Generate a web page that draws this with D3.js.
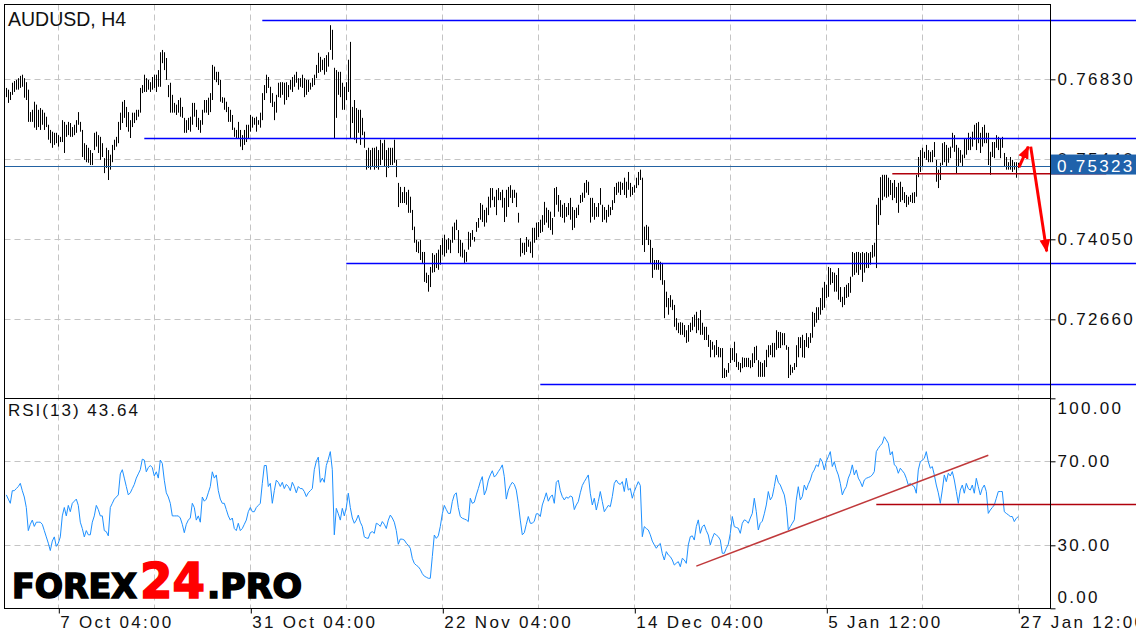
<!DOCTYPE html>
<html>
<head>
<meta charset="utf-8">
<script src="https://cdn.jsdelivr.net/npm/d3@7"></script>
<style>
body{margin:0;background:#fff;}
svg{display:block;font-family:"Liberation Sans",Arial,sans-serif;}
</style>
</head>
<body>
<div class="canvas"></div>
<script>
// H4 bars, oldest first
const high=[
.7668,.7665,.7661,.7677,.7680,.7682,.7685,.7689,.7691,.7685,
.7678,.7665,.7626,.7630,.7644,.7639,.7630,.7633,.7630,.7625,
.7618,.7604,.7595,.7592,.7590,.7590,.7586,.7583,.7612,.7609,
.7604,.7609,.7607,.7600,.7604,.7612,.7626,.7609,.7595,.7572,
.7569,.7564,.7560,.7555,.7590,.7592,.7586,.7583,.7572,.7546,
.7564,.7560,.7552,.7569,.7578,.7583,.7609,.7625,.7644,.7647,
.7635,.7626,.7612,.7625,.7625,.7630,.7630,.7668,.7673,.7691,
.7685,.7682,.7678,.7687,.7691,.7691,.7699,.7730,.7734,.7730,
.7720,.7673,.7677,.7656,.7642,.7639,.7647,.7651,.7635,.7616,
.7612,.7616,.7618,.7642,.7642,.7630,.7616,.7612,.7630,.7647,
.7647,.7651,.7659,.7708,.7705,.7696,.7696,.7682,.7652,.7651,
.7644,.7635,.7630,.7621,.7599,.7595,.7609,.7595,.7586,.7595,
.7604,.7604,.7621,.7618,.7616,.7618,.7612,.7625,.7659,.7673,
.7691,.7687,.7670,.7659,.7644,.7656,.7677,.7678,.7678,.7677,
.7678,.7673,.7682,.7687,.7691,.7696,.7685,.7685,.7691,.7685,
.7682,.7682,.7677,.7685,.7691,.7708,.7729,.7722,.7717,.7720,
.7725,.7730,.7777,.7769,.7703,.7699,.7696,.7696,.7677,.7670,
.7678,.7717,.7748,.7635,.7647,.7633,.7630,.7630,.7616,.7592,
.7560,.7564,.7560,.7564,.7564,.7566,.7560,.7578,.7572,.7578,
.7560,.7564,.7564,.7564,.7578,.7543,.7503,.7496,.7487,.7496,
.7487,.7491,.7479,.7456,.7427,.7404,.7401,.7404,.7383,.7383,
.7347,.7343,.7357,.7381,.7378,.7381,.7387,.7395,.7407,.7413,
.7404,.7407,.7404,.7427,.7434,.7439,.7421,.7404,.7399,.7387,
.7383,.7418,.7416,.7421,.7409,.7435,.7442,.7468,.7465,.7456,
.7460,.7479,.7494,.7494,.7479,.7491,.7494,.7487,.7491,.7477,
.7491,.7496,.7499,.7491,.7491,.7486,.7451,.7407,.7399,.7399,
.7409,.7404,.7401,.7425,.7425,.7434,.7435,.7439,.7447,.7470,
.7460,.7456,.7453,.7442,.7494,.7496,.7482,.7473,.7465,.7468,
.7461,.7468,.7477,.7461,.7456,.7460,.7465,.7482,.7486,.7503,
.7508,.7505,.7477,.7477,.7468,.7461,.7468,.7494,.7465,.7461,
.7456,.7465,.7461,.7473,.7496,.7503,.7505,.7505,.7503,.7512,
.7505,.7522,.7503,.7496,.7499,.7512,.7522,.7526,.7512,.7427,
.7430,.7427,.7404,.7390,.7369,.7369,.7369,.7366,.7364,.7334,
.7314,.7303,.7308,.7300,.7291,.7268,.7260,.7261,.7260,.7256,
.7247,.7256,.7260,.7270,.7274,.7279,.7268,.7282,.7260,.7253,
.7253,.7239,.7230,.7227,.7221,.7230,.7218,.7216,.7216,.7181,
.7178,.7190,.7216,.7216,.7227,.7207,.7192,.7190,.7200,.7199,
.7199,.7199,.7195,.7207,.7218,.7220,.7195,.7192,.7190,.7195,
.7213,.7221,.7221,.7225,.7225,.7247,.7244,.7244,.7242,.7242,
.7221,.7218,.7187,.7183,.7190,.7221,.7235,.7235,.7239,.7230,
.7242,.7235,.7242,.7279,.7277,.7287,.7287,.7303,.7321,.7331,
.7326,.7357,.7355,.7348,.7347,.7343,.7355,.7322,.7305,.7322,
.7326,.7329,.7340,.7383,.7381,.7383,.7383,.7381,.7383,.7381,
.7383,.7381,.7383,.7395,.7399,.7465,.7477,.7513,.7517,.7517,
.7517,.7512,.7508,.7503,.7508,.7496,.7503,.7505,.7496,.7487,
.7482,.7479,.7482,.7486,.7487,.7517,.7548,.7560,.7564,.7557,
.7569,.7560,.7557,.7560,.7574,.7543,.7526,.7538,.7572,.7574,
.7569,.7564,.7566,.7590,.7586,.7569,.7564,.7560,.7552,.7581,
.7581,.7590,.7583,.7592,.7604,.7607,.7609,.7590,.7600,.7604,
.7590,.7590,.7557,.7574,.7574,.7586,.7583,.7581,.7583,.7555,
.7548,.7539,.7548,.7543,.7539,.7539,.7538];
const low=[
.7652,.7642,.7647,.7656,.7661,.7665,.7665,.7668,.7670,.7651,
.7647,.7609,.7609,.7609,.7599,.7595,.7600,.7595,.7604,.7595,
.7600,.7578,.7572,.7564,.7569,.7572,.7566,.7574,.7574,.7555,
.7583,.7586,.7583,.7583,.7586,.7590,.7604,.7592,.7548,.7543,
.7539,.7538,.7534,.7534,.7560,.7566,.7555,.7543,.7548,.7520,
.7529,.7508,.7526,.7539,.7560,.7566,.7572,.7595,.7607,.7616,
.7600,.7592,.7581,.7600,.7607,.7612,.7618,.7625,.7659,.7661,
.7661,.7665,.7661,.7665,.7668,.7661,.7670,.7670,.7711,.7699,
.7682,.7652,.7625,.7625,.7625,.7621,.7625,.7618,.7616,.7590,
.7590,.7595,.7592,.7604,.7618,.7600,.7595,.7590,.7604,.7625,
.7625,.7621,.7626,.7647,.7682,.7678,.7673,.7644,.7642,.7630,
.7626,.7609,.7609,.7595,.7583,.7581,.7581,.7566,.7560,.7569,
.7574,.7581,.7592,.7599,.7604,.7592,.7604,.7599,.7612,.7647,
.7659,.7668,.7642,.7635,.7612,.7625,.7652,.7651,.7656,.7639,
.7647,.7652,.7665,.7661,.7670,.7677,.7665,.7670,.7668,.7652,
.7656,.7661,.7665,.7670,.7673,.7685,.7694,.7696,.7699,.7691,
.7696,.7705,.7734,.7717,.7581,.7616,.7656,.7652,.7630,.7630,
.7647,.7661,.7581,.7607,.7578,.7572,.7590,.7569,.7586,.7564,
.7526,.7529,.7526,.7531,.7526,.7529,.7526,.7534,.7543,.7531,
.7513,.7529,.7534,.7534,.7538,.7513,.7461,.7468,.7468,.7468,
.7465,.7451,.7451,.7421,.7399,.7383,.7381,.7369,.7364,.7331,
.7329,.7314,.7322,.7347,.7348,.7355,.7352,.7361,.7378,.7375,
.7381,.7387,.7381,.7399,.7404,.7421,.7381,.7375,.7373,.7364,
.7366,.7387,.7392,.7404,.7401,.7418,.7425,.7439,.7435,.7427,
.7434,.7447,.7460,.7473,.7461,.7447,.7473,.7473,.7460,.7435,
.7444,.7461,.7477,.7468,.7477,.7461,.7434,.7375,.7381,.7378,
.7383,.7392,.7381,.7373,.7399,.7404,.7409,.7416,.7418,.7430,
.7434,.7425,.7421,.7413,.7444,.7465,.7453,.7444,.7442,.7434,
.7444,.7447,.7439,.7421,.7425,.7442,.7447,.7468,.7470,.7477,
.7486,.7482,.7434,.7444,.7439,.7444,.7444,.7465,.7435,.7439,
.7434,.7444,.7447,.7456,.7468,.7482,.7486,.7482,.7491,.7482,
.7477,.7491,.7479,.7482,.7486,.7494,.7499,.7508,.7395,.7383,
.7404,.7395,.7364,.7338,.7352,.7352,.7352,.7334,.7326,.7268,
.7287,.7274,.7287,.7282,.7253,.7247,.7242,.7239,.7239,.7235,
.7225,.7227,.7244,.7247,.7253,.7242,.7247,.7239,.7239,.7230,
.7230,.7218,.7200,.7213,.7200,.7204,.7200,.7200,.7164,.7164,
.7166,.7173,.7190,.7195,.7192,.7183,.7178,.7174,.7181,.7183,
.7183,.7183,.7181,.7183,.7190,.7195,.7166,.7166,.7166,.7166,
.7183,.7200,.7204,.7200,.7200,.7213,.7216,.7216,.7221,.7221,
.7213,.7164,.7169,.7173,.7178,.7183,.7200,.7216,.7200,.7199,
.7218,.7216,.7225,.7234,.7253,.7260,.7265,.7274,.7282,.7286,
.7303,.7305,.7326,.7329,.7314,.7314,.7300,.7296,.7287,.7291,
.7303,.7305,.7312,.7340,.7343,.7347,.7343,.7352,.7331,.7347,
.7355,.7355,.7361,.7373,.7375,.7355,.7430,.7447,.7473,.7479,
.7477,.7479,.7482,.7473,.7477,.7468,.7451,.7470,.7473,.7468,
.7461,.7465,.7470,.7468,.7468,.7479,.7513,.7522,.7531,.7546,
.7543,.7539,.7539,.7539,.7548,.7505,.7494,.7508,.7534,.7539,
.7531,.7538,.7546,.7564,.7557,.7520,.7531,.7538,.7531,.7546,
.7552,.7560,.7560,.7566,.7578,.7560,.7572,.7555,.7566,.7572,
.7572,.7534,.7517,.7548,.7546,.7564,.7560,.7546,.7564,.7531,
.7526,.7526,.7526,.7522,.7526,.7512,.7529];
const rsi=[
54,52,50,56,56,57,58,59.5,56,53,
48,37,40,42,39,41,41,41,40,37,
34,31,27.5,32,34,29.5,31,34,44,48,
44,49,46,50,51,52,49,41,38,34,
37,35,35,41,44,49,47,44,44,37,
36.5,34.5,48,50,52,53,54,64,66,62,
58,54,55,57,59,62,64,66,71,70.6,
65,67,68,67,63,65,62,70.6,69,61,
55,53,50,44,44,44,44,43,40,36,
40,42,43,50,48,42,44,41,53,51,
52,55,58,65,62,63.5,56,52,50,50,
47,44,42,43,38,37,40.5,37,38,40,
42,46,48,46,46,48,49,50,59.5,68,
68,58,59.5,50,56,61,60,58,60,57,
59,58,56,60,58,55,58,57,57,55.6,
53.2,55,56,57,66,70,72,60,62,60,
68,71,74.6,66,35,47.6,45,42,47.6,44,
48,54.8,48,43,40.5,42,44.4,41,39,34,
33.5,33.3,36,36.5,35.7,40.5,40,39,41.3,40,
38,42,44.4,43,41,37,30.5,33,32.9,32.5,
31,30,28.6,23.8,21.4,20.5,19.8,18.5,16.5,15.3,
14.8,14.3,14.3,24.6,34.9,33.3,34.5,39,45,49,
47,45.2,45.2,50.8,54,55,48,43.7,42.9,42.5,
42.1,41.3,52.4,50,50.5,54,57,60.3,62.7,54,
56.3,61.1,63.5,65.5,62.5,63.5,65.1,66.5,68.3,62.7,
52,56.3,58.5,60,59,56.3,50,42,35,36,
40,43.7,40.5,40.5,41.5,45,45,43.7,49.2,52,
55,51,53,54,50,60,61,56,53.2,51.6,
53,52.4,53.5,53,47,49.2,50.8,55,58.5,60.3,
61.9,63.5,54.8,49.2,52.4,46.8,50.8,55.6,50.8,46,
47.5,49,48.4,53.2,59.5,61.1,59.5,59,60.3,55.6,
61.9,56.3,57.1,52.4,55.6,58,60.3,58.5,34.1,38.9,
38,37.3,35,32,30.2,28.6,30,30.9,26,23,
27,25.4,24.6,23,20.6,21.5,22.2,19.8,23.8,23,
21.4,30.2,34.1,34.5,32.5,38.9,42.1,35.7,38.9,39.7,
37,34.9,30.2,33.3,35.7,34.9,34.1,32.5,26.2,26.2,
28.6,30.5,35.7,43.7,38.9,38.5,38.1,35.7,40.5,42.1,
41.7,40.5,43,45.2,52.4,46,37.3,40.5,41.5,45,
49.2,55.6,51.6,53.2,58,63.5,60,58.7,56.3,54,
48.4,37.3,38.9,40.5,42.1,51.6,57.9,51.6,53.2,58.7,
56.3,59,61.1,64.3,65.9,68.3,67.5,71.4,69.8,65.9,
70,72.2,74.6,67.5,69.8,66,63.5,59.5,54,56.3,
57.9,62,64.3,68.3,63.5,65.9,62,60.3,57.9,61.1,
61.9,62.3,62.7,63.5,65.1,74.6,76.2,77.5,78.6,81.7,
80.2,78.6,73,74.6,68.3,67.5,64.3,66.7,65.5,64.3,
61.9,58.7,59.5,58.5,57.9,54.8,65.9,69.8,70.5,71.4,
74.6,69.8,66.7,67.5,63.5,58.7,55,50,56.3,63.5,
60.3,64.3,63,65.1,61.1,55.6,50,56.3,58.7,54.8,
59.5,57,56.3,58.7,54.8,61.9,57.9,54,57.1,58.7,
55.6,45.2,46.8,48,49.2,52.4,55.6,55.6,55.6,46,
45.2,44.5,43.7,43.7,41.3,42.9,43.64];

const priceTicks=[0.7683,0.7544,0.7405,0.7266];
const rsiTicks=[100,70,30,0];
const rsiGrid=[70,30];
const dateBars=[26,122,218,314,410,506];
const dateLabels=["7 Oct 04:00","31 Oct 04:00","22 Nov 04:00","14 Dec 04:00","5 Jan 12:00","27 Jan 12:00"];
const bid=0.75323;

// drawn objects (bar index, price / rsi value)
const levelPrice=[0.7786,0.7581,0.7364,0.7153];
const levelFrom=[128,69,170,267];
const redLevel={from:443,to:550,price:0.7519};
const rsiTrend=[[345,20.1],[491,72.9]];
const rsiLevel={from:435,value:49.5};
const arrows=[[[506.3,0.7530],[511,0.7566]],[[512.2,0.7566],[520.2,0.7384]]];

const W=1136,H=640,
pLeft=4.5,pRight=1050.5,pTop=4.5,pMid=398.5,pBottom=608.5;

const x=d3.scaleLinear().domain([26,506]).range([58.3,1018.3]);
const y=d3.scaleLinear().domain([0.7266,0.7683]).range([319.3,79.3]);
const yR=d3.scaleLinear().domain([30,70]).range([545.3,461.3]);
const px=i=>Math.round(x(i))+0.5;

const svg=d3.select(".canvas").append("svg")
  .attr("width",W).attr("height",H)
  .style("background-color","white");

const defs=svg.append("defs");
defs.append("clipPath").attr("id","mainClip").append("rect")
  .attr("x",pLeft).attr("y",pTop).attr("width",pRight-pLeft).attr("height",pMid-pTop);
defs.append("clipPath").attr("id","rsiClip").append("rect")
  .attr("x",pLeft).attr("y",pMid).attr("width",pRight-pLeft).attr("height",pBottom-pMid);
defs.append("marker").attr("id","head")
  .attr("markerUnits","userSpaceOnUse")
  .attr("viewBox","0 0 12 10").attr("refX",11).attr("refY",5)
  .attr("markerWidth",13).attr("markerHeight",11).attr("orient","auto")
  .append("path").attr("d","M0,0L12,5L0,10Z").attr("fill","#ff0000");

// grid
const grid=svg.append("g").attr("stroke","#c4c4c4").attr("stroke-dasharray","6,4").attr("stroke-width",1);
d3.range(26,507,48).forEach(b=>{
  grid.append("line").attr("x1",px(b)).attr("x2",px(b)).attr("y1",pTop).attr("y2",pBottom);
});
priceTicks.forEach(p=>{
  const yy=Math.round(y(p))+0.5;
  grid.append("line").attr("x1",pLeft).attr("x2",pRight).attr("y1",yy).attr("y2",yy);
});
rsiGrid.forEach(v=>{
  const yy=Math.round(yR(v))+0.5;
  grid.append("line").attr("x1",pLeft).attr("x2",pRight).attr("y1",yy).attr("y2",yy);
});

// price bars
svg.append("g").attr("clip-path","url(#mainClip)")
  .selectAll("line").data(high).enter().append("line")
  .attr("x1",(d,i)=>px(i)).attr("x2",(d,i)=>px(i))
  .attr("y1",d=>y(d)).attr("y2",(d,i)=>y(low[i]))
  .attr("stroke","#000").attr("stroke-width",1);

// horizontal levels
svg.selectAll(".level").data(levelPrice).enter().append("line")
  .attr("class","level")
  .attr("x1",(d,i)=>x(levelFrom[i])).attr("x2",W)
  .attr("y1",d=>Math.round(y(d))+0.5).attr("y2",d=>Math.round(y(d))+0.5)
  .attr("stroke","#0000ff").attr("stroke-width",1.3);

svg.append("line")
  .attr("x1",x(redLevel.from)).attr("x2",x(redLevel.to))
  .attr("y1",y(redLevel.price)).attr("y2",y(redLevel.price))
  .attr("stroke","#b0000c").attr("stroke-width",1.4);

// bid line
svg.append("line")
  .attr("x1",pLeft).attr("x2",pRight)
  .attr("y1",Math.round(y(bid))+0.5).attr("y2",Math.round(y(bid))+0.5)
  .attr("stroke","#2362a2").attr("stroke-width",1.2);

// arrows
arrows.forEach(a=>{
  svg.append("line")
    .attr("x1",x(a[0][0])).attr("y1",y(a[0][1]))
    .attr("x2",x(a[1][0])).attr("y2",y(a[1][1]))
    .attr("stroke","#ff0000").attr("stroke-width",3)
    .attr("marker-end","url(#head)");
});

// rsi
svg.append("path").datum(rsi)
  .attr("clip-path","url(#rsiClip)")
  .attr("fill","none").attr("stroke","#1e90ff").attr("stroke-width",1)
  .attr("d",d3.line().x((d,i)=>x(i)).y(d=>yR(d)));

svg.append("line")
  .attr("x1",x(rsiTrend[0][0])).attr("y1",yR(rsiTrend[0][1]))
  .attr("x2",x(rsiTrend[1][0])).attr("y2",yR(rsiTrend[1][1]))
  .attr("stroke","#c0393b").attr("stroke-width",1.5);
svg.append("line")
  .attr("x1",x(rsiLevel.from)).attr("x2",W)
  .attr("y1",Math.round(yR(rsiLevel.value))+0.5).attr("y2",Math.round(yR(rsiLevel.value))+0.5)
  .attr("stroke","#b0000c").attr("stroke-width",1.4);

// panel frames
svg.append("rect").attr("x",pLeft).attr("y",pTop).attr("width",pRight-pLeft).attr("height",pMid-pTop)
  .attr("fill","none").attr("stroke","#000");
svg.append("rect").attr("x",pLeft).attr("y",pMid).attr("width",pRight-pLeft).attr("height",pBottom-pMid)
  .attr("fill","none").attr("stroke","#000");

// axes
const styleAxis=g=>{
  g.select(".domain").remove();
  g.selectAll("line").attr("stroke","#000");
  g.selectAll("text").attr("fill","#111")
    .style("font-family","'Liberation Sans',Arial,sans-serif")
    .style("font-size","17px").style("letter-spacing","2.3px");
};

const priceAxis=d3.axisRight(y).tickValues(priceTicks)
  .tickFormat(d3.format(".5f")).tickSize(5).tickPadding(2);
svg.append("g").attr("id","y-axis")
  .attr("transform",`translate(${pRight},0)`)
  .call(priceAxis).call(styleAxis);

const rsiAxis=d3.axisRight(yR).tickValues(rsiTicks)
  .tickFormat(d3.format(".2f")).tickSize(5).tickPadding(2);
svg.append("g").attr("id","rsi-axis")
  .attr("transform",`translate(${pRight},0)`)
  .call(rsiAxis).call(styleAxis)
  .selectAll("text")
  .attr("transform",d=>d===100?"translate(0,10)":d===0?"translate(0,-11)":null);

const xAxis=d3.axisBottom(x).tickValues(dateBars)
  .tickFormat((d,i)=>dateLabels[i]).tickSize(5).tickPadding(2);
svg.append("g").attr("id","x-axis")
  .attr("transform",`translate(0.5,${pBottom})`)
  .call(xAxis).call(styleAxis)
  .selectAll("text").attr("text-anchor","start").attr("x",1);

// bid tag
const bidY=y(bid);
svg.append("rect").attr("x",pRight+0.5).attr("y",bidY-11.5).attr("width",W-pRight).attr("height",20)
  .attr("fill","#1f62ab");
svg.append("text").attr("x",1057).attr("y",bidY+5.8)
  .attr("fill","#fff").style("font-size","17px").style("letter-spacing","2.3px")
  .text(d3.format(".5f")(bid));

// titles
svg.append("text").attr("x",8).attr("y",26)
  .attr("fill","#111").style("font-size","19.5px")
  .text("AUDUSD, H4");
svg.append("text").attr("x",8).attr("y",416)
  .attr("fill","#111").style("font-size","17px").style("letter-spacing","2px")
  .text("RSI(13) "+rsi[rsi.length-1].toFixed(2));

// watermark
const mark=[{t:"FOREX",x:12,w:125,s:34,c:"#000"},{t:"24",x:140,w:65,s:49,c:"#ff0000"},{t:".PRO",x:207,w:95,s:34,c:"#000"}];
mark.forEach(m=>{
  svg.append("text").attr("x",m.x).attr("y",598)
    .attr("textLength",m.w).attr("lengthAdjust","spacingAndGlyphs")
    .style("font-family","'DejaVu Sans',sans-serif").style("font-weight","bold")
    .style("font-size",m.s+"px")
    .attr("fill",m.c).attr("stroke",m.c).attr("stroke-width",1.6)
    .text(m.t);
});
</script>
</body>
</html>
